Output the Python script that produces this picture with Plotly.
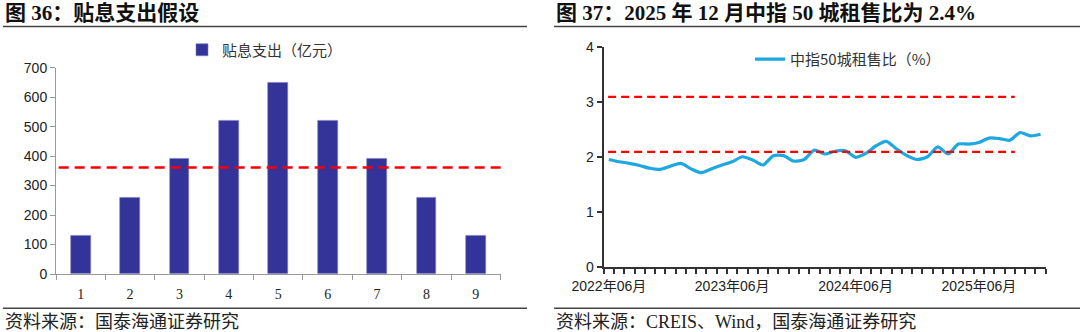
import pandas as pd
import plotly.graph_objects as go

# ---- data ----------------------------------------------------------------
periods = [1, 2, 3, 4, 5, 6, 7, 8, 9]
subsidy = [130, 260, 390, 520, 650, 520, 390, 260, 130]          # 亿元
subsidy_mean = sum(subsidy) / len(subsidy)

months = pd.date_range("2022-06-01", "2025-12-01", freq="MS")
month_labels = [f"{d.year}年{d.month:02d}月" for d in months]
rent_sale_ratio = [
    1.96, 1.92, 1.89, 1.85, 1.80, 1.78, 1.84, 1.89, 1.79, 1.72,
    1.79, 1.86, 1.92, 2.01, 1.95, 1.86, 2.03, 2.03, 1.93, 1.96,
    2.13, 2.06, 2.11, 2.12, 2.00, 2.07, 2.21, 2.29, 2.15, 2.03,
    1.96, 2.01, 2.19, 2.06, 2.24, 2.24, 2.27, 2.35, 2.34, 2.31,
    2.45, 2.39, 2.42,
]
ref_levels = [3.1, 2.1]

# ---- helpers (pixel -> paper) -------------------------------------------
W, H = 1080, 332


def px(x):
    return x / W


def py(y):
    return 1 - y / H


SERIF = "Liberation Serif, Noto Sans CJK SC"
SANS = "Liberation Sans, Noto Sans CJK SC"
CJK = "Noto Sans CJK SC"

month_idx = list(range(len(months)))
june_idx = [i for i, d in enumerate(months) if d.month == 6]

fig = go.Figure()

fig.add_bar(
    x=periods, y=subsidy, width=0.4,
    marker=dict(color="#333399", line=dict(color="#7f7fbf", width=0.6)),
    name="贴息支出（亿元）", xaxis="x", yaxis="y", legend="legend",
)

fig.add_scatter(
    x=month_idx, y=rent_sale_ratio, mode="lines",
    line=dict(color="#1FA8E0", width=3.2, shape="spline", smoothing=0.7),
    name="中指50城租售比（%）", xaxis="x2", yaxis="y2", legend="legend2",
)

shapes = []
# dashed mean line on the bar chart
shapes.append(dict(type="line", xref="x domain", yref="y", x0=0.006, x1=1.009,
                   y0=subsidy_mean, y1=subsidy_mean,
                   line=dict(color="#FF0000", width=2.5, dash="10px,6px")))
# dashed reference levels on the ratio chart
for lv in ref_levels:
    shapes.append(dict(type="line", xref="x2 domain", yref="y2", x0=0.01, x1=0.93,
                       y0=lv, y1=lv,
                       line=dict(color="#FF0000", width=2.2, dash="8px,5px")))
# header / footer rules
for (a, b) in [(3, 527), (554, 1080)]:
    for yy in (26.5, 308.3):
        shapes.append(dict(type="line", xref="paper", yref="paper",
                           x0=px(a), x1=px(b), y0=py(yy), y1=py(yy),
                           line=dict(color="#444444", width=1.5)))

annotations = [
    dict(text="图 36：贴息支出假设", x=px(3), y=py(13.5), xanchor="left", yanchor="middle",
         font=dict(family=SERIF, size=21, color="#111111", weight="bold")),
    dict(text="图 37：2025 年 12 月中指 50 城租售比为 2.4%", x=px(554), y=py(13.5),
         xanchor="left", yanchor="middle",
         font=dict(family=SERIF, size=21, color="#111111", weight="bold")),
    dict(text="资料来源：国泰海通证券研究", x=px(3), y=py(321.5), xanchor="left",
         yanchor="middle", font=dict(family=SERIF, size=18, color="#222222")),
    dict(text="资料来源：CREIS、Wind，国泰海通证券研究", x=px(554), y=py(321.5),
         xanchor="left", yanchor="middle", font=dict(family=SERIF, size=18, color="#222222")),
]
for a in annotations:
    a.update(xref="paper", yref="paper", showarrow=False)

fig.update_layout(
    width=W, height=H,
    margin=dict(l=0, r=0, t=0, b=0, pad=0, autoexpand=False),
    paper_bgcolor="white", plot_bgcolor="white",
    bargap=0, showlegend=True,
    shapes=shapes, annotations=annotations,
    xaxis=dict(
        domain=[px(56), px(500.5)], range=[0.5, 9.5], anchor="y", automargin=False,
        tickmode="array", tickvals=periods, ticks="", ticklabelstandoff=7,
        tickfont=dict(family=SERIF, size=14, color="#222222"),
        showline=True, linecolor="#999999", linewidth=1,
        minor=dict(tickmode="linear", tick0=0.5, dtick=1, ticks="outside",
                   ticklen=5, tickcolor="#999999", tickwidth=1),
        showgrid=False, zeroline=False,
    ),
    yaxis=dict(
        domain=[py(274), py(67.7)], range=[0, 700], anchor="x", automargin=False,
        tickmode="linear", tick0=0, dtick=100, ticks="outside", ticklen=5,
        tickcolor="#999999", showline=True, linecolor="#999999", linewidth=1,
        tickfont=dict(family=SANS, size=14, color="#222222"),
        showgrid=False, zeroline=False,
    ),
    xaxis2=dict(
        domain=[px(603.7), px(1045.7)], range=[-0.5, len(months) - 0.5], anchor="y2",
        automargin=False,
        tickmode="array", tickvals=june_idx, ticktext=[month_labels[i] for i in june_idx],
        ticks="", ticklabelstandoff=5, tickfont=dict(family=SANS, size=14, color="#222222"),
        showline=True, linecolor="#333333", linewidth=2,
        minor=dict(tickmode="linear", tick0=-0.5, dtick=1, ticks="outside",
                   ticklen=5, tickcolor="#333333", tickwidth=1.5),
        showgrid=False, zeroline=False,
    ),
    yaxis2=dict(
        domain=[py(267.3), py(47.3)], range=[0, 4], anchor="x2", automargin=False,
        tickmode="linear", tick0=0, dtick=1, ticks="outside", ticklen=5,
        tickcolor="#333333", tickwidth=1.5, showline=True, linecolor="#333333", linewidth=2,
        tickfont=dict(family=SANS, size=14, color="#222222"),
        showgrid=False, zeroline=False,
    ),
    legend=dict(x=px(182), y=py(50), xanchor="left", yanchor="middle",
                orientation="h", bgcolor="rgba(0,0,0,0)",
                font=dict(family=CJK, size=15, color="#333333")),
    legend2=dict(x=px(750), y=py(59.3), xanchor="left", yanchor="middle",
                 orientation="h", bgcolor="rgba(0,0,0,0)",
                 font=dict(family=CJK, size=15, color="#333333")),
)

fig.write_html("out.html")
